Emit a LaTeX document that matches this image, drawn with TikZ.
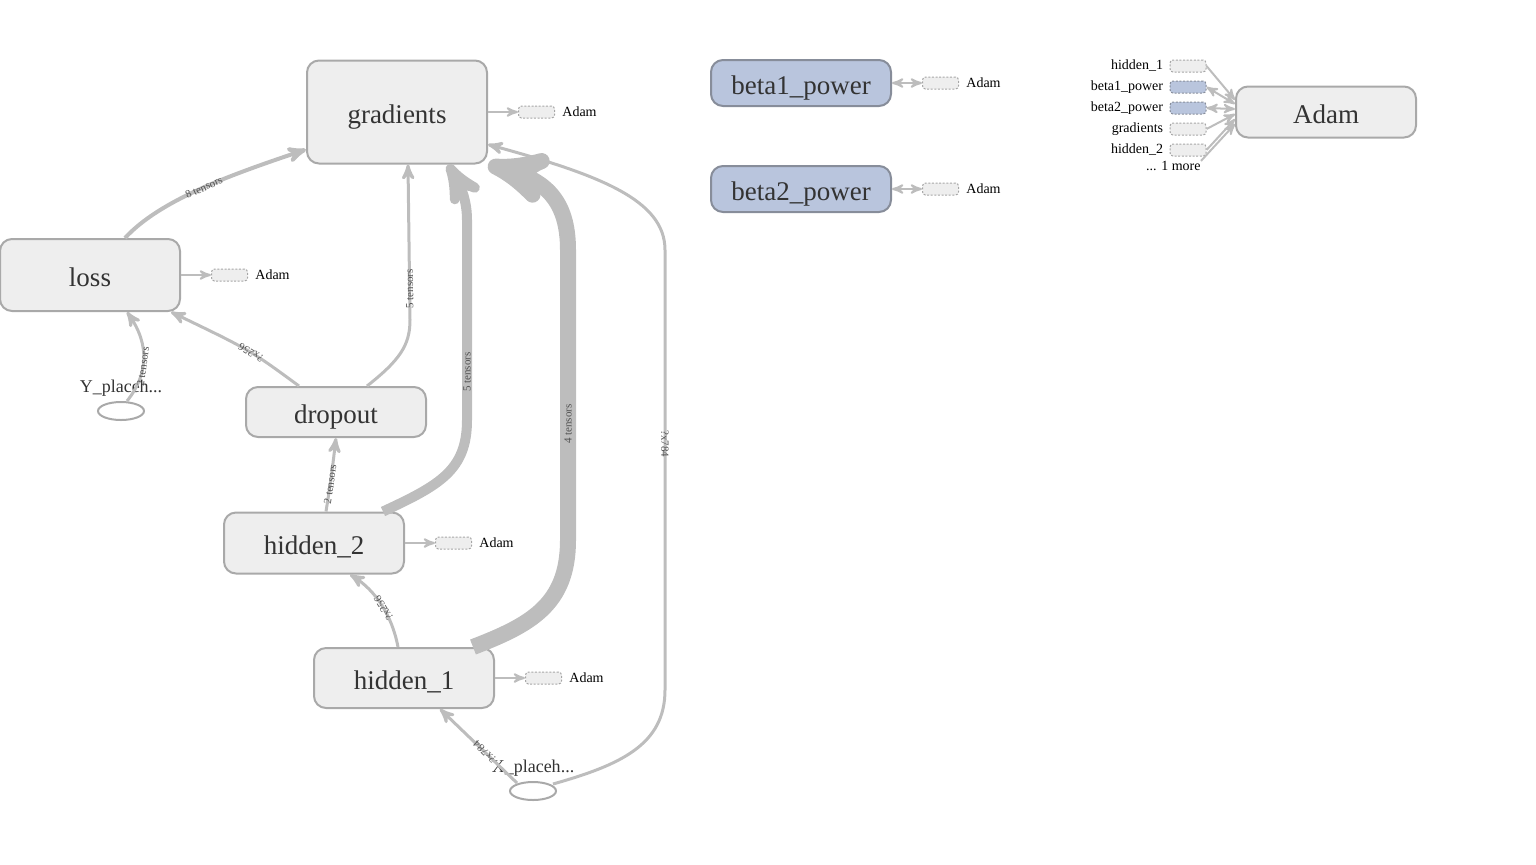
\documentclass[tikz,border=0pt]{standalone}
\usepackage{fontspec}
\setmainfont{Liberation Serif}
\usepackage{tikz}
\usetikzlibrary{shapes}
\usetikzlibrary{arrows}
\usetikzlibrary{positioning,calc}
\definecolor{nodefill}{HTML}{EEEEEE}
\definecolor{nodeline}{HTML}{A9A9A9}
\definecolor{varfill}{HTML}{B9C5DD}
\definecolor{varline}{HTML}{878D9A}
\definecolor{flow}{HTML}{BDBDBD}
\definecolor{nodetext}{HTML}{333333}
\definecolor{auxline}{HTML}{A6A6A6}
\tikzset{
  main node/.style={rectangle,rounded corners=6pt,draw=nodeline,fill=nodefill,line width=1pt,
    text=nodetext,font=\fontsize{13.5}{16}\selectfont,minimum width=90pt,inner sep=2pt,
    text height=11.2pt,text depth=0pt},
  var node/.style={main node,draw=varline,fill=varfill},
  placeholder/.style={ellipse,draw=nodeline,line width=1pt,minimum width=23pt,minimum height=9pt,inner sep=0pt},
  ph label/.style={font=\fontsize{9}{10}\selectfont,text=nodetext,inner sep=0pt},
  aux/.style={rectangle,rounded corners=1.5pt,draw=auxline,dash pattern=on 1pt off 0.8pt,
    fill=nodefill,line width=0.5pt,minimum width=18pt,minimum height=6pt,inner sep=0pt},
  aux var/.style={aux,fill=varfill,draw=varline},
  aux label/.style={font=\fontsize{7}{8}\selectfont,inner sep=0pt},
  flow edge/.style={color=flow,line width=1.5pt},
  flow label/.style={font=\fontsize{5.5}{6}\selectfont,text=nodetext!85,inner sep=0pt,sloped,allow upside down},
  flow label down/.style={font=\fontsize{5.5}{6}\selectfont,text=nodetext!85,inner sep=0pt,rotate=-90}
}
\begin{document}
\begin{tikzpicture}[->,>=stealth',x=0.5pt,y=-0.5pt]
    \useasboundingbox (0,0) rectangle (1536,864);
    \node [main node,minimum height=51.5pt] (gradients) at (397,112) {gradients};
    \node [main node,minimum height=36pt] (loss) at (90,275) {loss};
    \node [main node,minimum height=25pt] (dropout) at (336,412) {dropout};
    \node [main node,minimum height=30.5pt] (hidden2) at (314,543) {hidden\_2};
    \node [main node,minimum height=30pt] (hidden1) at (404,678) {hidden\_1};
    \node [var node,minimum height=23pt] (beta1) at (801,83) {beta1\_power};
    \node [var node,minimum height=23pt] (beta2) at (801,189) {beta2\_power};
    \node [main node,minimum height=25.5pt] (Adam) at (1326,112) {Adam};
    \node [placeholder] (Y) at (121,411) {};
    \node [ph label] (Yl) at (121,388) {Y\_placeh...};
    \node [placeholder] (X) at (533,791) {};
    \node [ph label] (Xl) at (533,768) {X\_placeh...};

    % control dependencies towards Adam
    \node [aux,right=15pt of gradients] (ga) {};
    \node [aux label,right=3.5pt of ga] (gat) {Adam};
    \node [aux,right=15pt of loss] (la) {};
    \node [aux label,right=3.5pt of la] (lat) {Adam};
    \node [aux,right=15pt of hidden2] (h2a) {};
    \node [aux label,right=3.5pt of h2a] (h2at) {Adam};
    \node [aux,right=15pt of hidden1] (h1a) {};
    \node [aux label,right=3.5pt of h1a] (h1at) {Adam};
    \node [aux,right=15pt of beta1] (b1a) {};
    \node [aux label,right=3.5pt of b1a] (b1at) {Adam};
    \node [aux,right=15pt of beta2] (b2a) {};
    \node [aux label,right=3.5pt of b2a] (b2at) {Adam};
    \draw [flow edge,line width=1pt] (gradients) -- (ga);
    \draw [flow edge,line width=1pt] (loss) -- (la);
    \draw [flow edge,line width=1pt] (hidden2) -- (h2a);
    \draw [flow edge,line width=1pt] (hidden1) -- (h1a);
    \draw [flow edge,line width=1pt,<->] (beta1) -- (b1a);
    \draw [flow edge,line width=1pt,<->] (beta2) -- (b2a);

    % inputs of Adam
    \node [aux] (in1) at (1188,66) {};
    \node [aux var] (in2) at (1188,87) {};
    \node [aux var] (in3) at (1188,108) {};
    \node [aux] (in4) at (1188,129) {};
    \node [aux] (in5) at (1188,150) {};
    \node [aux label,left=3pt of in1] (in1l) {hidden\_1};
    \node [aux label,left=3pt of in2] (in2l) {beta1\_power};
    \node [aux label,left=3pt of in3] (in3l) {beta2\_power};
    \node [aux label,left=3pt of in4] (in4l) {gradients};
    \node [aux label,left=3pt of in5] (in5l) {hidden\_2};
    \node [aux label,anchor=east] (more) at (1201,166) {... 1 more};
    \draw [flow edge,line width=1pt] (in1.east) -- ($(Adam.west)+(0,-12)$);
    \draw [flow edge,line width=1pt,<->] (in2.east) -- ($(Adam.west)+(0,-8)$);
    \draw [flow edge,line width=1pt,<->] (in3.east) -- ($(Adam.west)+(0,-3)$);
    \draw [flow edge,line width=1pt] (in4.east) -- ($(Adam.west)+(0,2)$);
    \draw [flow edge,line width=1pt] (in5.east) -- ($(Adam.west)+(0,7)$);
    \draw [flow edge,line width=1pt] (more.north east) -- ($(Adam.west)+(0,12)$);

    % data flow
    \draw [flow edge,line width=2pt] ($(loss.north)+(35,0)$) .. controls (160,200) and (230,175) ..
      node [flow label,pos=0.52] {8 tensors} ($(gradients.south west)+(0,-15)$);
    \draw [flow edge] ($(Y.north)+(6,0)$) .. controls (148,375) and (150,345) ..
      node [flow label,pos=0.42] {2 tensors} ($(loss.south)+(37,0)$);
    \draw [flow edge] ($(dropout.north)+(-37,0)$) .. controls (250,350) ..
      node [flow label,pos=0.45] {?x256} ($(loss.south east)+(-10,0)$);
    \draw [flow edge] ($(dropout.north)+(31,0)$) .. controls (400,360) and (410,345) .. (410,320)
      -- node [flow label,pos=0.2] {5 tensors} ($(gradients.south)+(11,0)$);
    \draw [flow edge] ($(hidden2.north)+(12,0)$) .. controls (331,480) ..
      node [flow label,pos=0.4] {2 tensors} (dropout.south);
    \draw [flow edge,line width=5pt] ($(hidden2.north east)+(-22,0)$) .. controls (440,485) and (467,470) .. (467,420)
      -- node [flow label,pos=0.24] {5 tensors} (467,220)
      .. controls (467,195) and (457,180) .. ($(gradients.south east)+(-40,0)$);
    \draw [flow edge] ($(hidden1.north)+(-6,0)$) .. controls (392,615) and (375,590) ..
      node [flow label,pos=0.45] {?x256} ($(hidden2.south)+(36,0)$);
    \draw [flow edge,line width=8pt] ($(hidden1.north east)+(-22,0)$) .. controls (530,625) and (568,605) .. (568,540)
      -- node [flow label,pos=0.4] {4 tensors} (568,250)
      .. controls (568,200) and (545,180) .. (gradients.south east);
    \draw [flow edge] ($(X.north)+(-16,2)$) -- node [flow label,pos=0.42] {?x784} ($(hidden1.south)+(36,0)$);
    \draw [flow edge] ($(X.north)+(20,3)$) .. controls (620,765) and (665,745) .. (665,690)
      -- node [flow label down,pos=0.56] {?x784} (665,250)
      .. controls (665,200) and (600,175) .. ($(gradients.south east)+(0,-20)$);
\end{tikzpicture}
\end{document}
